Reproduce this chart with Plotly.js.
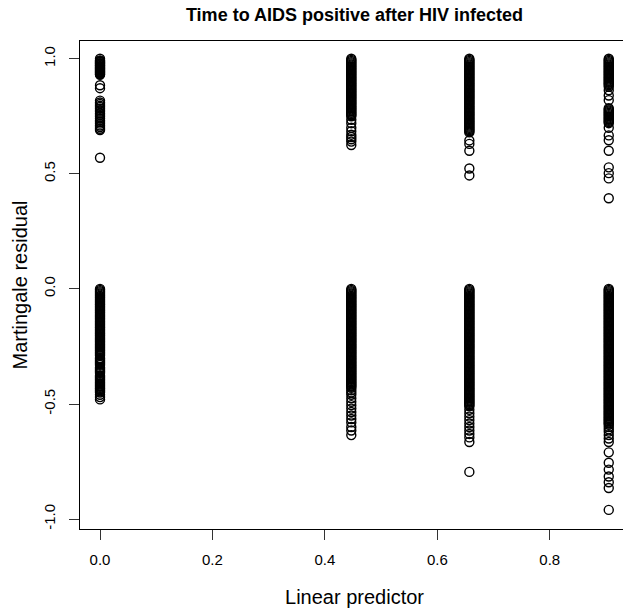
<!DOCTYPE html>
<html>
<head>
<meta charset="utf-8">
<script src="https://cdn.plot.ly/plotly-3.0.1.min.js"></script>
<style>
html,body{margin:0;padding:0;overflow:hidden;background:#fff;}
#chart{width:629px;height:612px;}
</style>
</head>
<body>
<div id="chart"></div>
<script>
// Linear predictor values (one per group of subjects)
const linearPredictor = [0, 0.447, 0.657, 0.905];

// Martingale residuals, upper (events) and lower (censored) clusters per group
const residUpper0 = [1.0,0.993,0.99,0.987,0.984,0.981,0.978,0.975,0.972,0.969,0.966,0.963,0.96,0.957,0.954,0.951,0.948,0.945,0.942,0.939,0.936,0.933,0.93,0.885,0.872,0.818,0.81,0.803,0.796,0.79,0.783,0.776,0.77,0.762,0.755,0.748,0.74,0.732,0.725,0.718,0.71,0.703,0.696,0.69,0.57];
const residLower0 = [0,-0.005,-0.01,-0.015,-0.02,-0.025,-0.03,-0.035,-0.04,-0.045,-0.05,-0.055,-0.06,-0.065,-0.07,-0.075,-0.08,-0.085,-0.09,-0.095,-0.1,-0.105,-0.11,-0.115,-0.12,-0.125,-0.13,-0.135,-0.14,-0.145,-0.15,-0.155,-0.16,-0.165,-0.17,-0.175,-0.18,-0.185,-0.19,-0.195,-0.2,-0.205,-0.21,-0.215,-0.22,-0.225,-0.23,-0.235,-0.24,-0.245,-0.25,-0.255,-0.26,-0.265,-0.27,-0.275,-0.28,-0.285,-0.29,-0.3,-0.305,-0.31,-0.315,-0.32,-0.325,-0.33,-0.34,-0.345,-0.35,-0.355,-0.36,-0.365,-0.375,-0.38,-0.385,-0.39,-0.395,-0.4,-0.405,-0.41,-0.415,-0.42,-0.425,-0.43,-0.435,-0.44,-0.445,-0.45,-0.46,-0.47,-0.48];

const residUpper1 = [1,0.995,0.99,0.985,0.98,0.975,0.97,0.965,0.96,0.955,0.95,0.945,0.94,0.935,0.93,0.925,0.92,0.915,0.91,0.905,0.9,0.895,0.89,0.885,0.88,0.875,0.87,0.865,0.86,0.855,0.85,0.845,0.84,0.835,0.83,0.825,0.82,0.815,0.81,0.805,0.8,0.795,0.79,0.785,0.78,0.775,0.77,0.765,0.76,0.755,0.75,0.735,0.72,0.7,0.685,0.67,0.66,0.65,0.64,0.625];
const residLower1 = [0,-0.005,-0.01,-0.015,-0.02,-0.025,-0.03,-0.035,-0.04,-0.045,-0.05,-0.055,-0.06,-0.065,-0.07,-0.075,-0.08,-0.085,-0.09,-0.095,-0.1,-0.105,-0.11,-0.115,-0.12,-0.125,-0.13,-0.135,-0.14,-0.145,-0.15,-0.155,-0.16,-0.165,-0.17,-0.175,-0.18,-0.185,-0.19,-0.195,-0.2,-0.205,-0.21,-0.215,-0.22,-0.225,-0.23,-0.235,-0.24,-0.245,-0.25,-0.255,-0.26,-0.265,-0.27,-0.275,-0.28,-0.285,-0.29,-0.295,-0.3,-0.305,-0.31,-0.315,-0.32,-0.325,-0.33,-0.335,-0.34,-0.345,-0.35,-0.355,-0.36,-0.365,-0.37,-0.375,-0.38,-0.385,-0.39,-0.395,-0.4,-0.405,-0.41,-0.415,-0.42,-0.425,-0.43,-0.44,-0.45,-0.46,-0.475,-0.49,-0.505,-0.52,-0.535,-0.55,-0.565,-0.58,-0.6,-0.615,-0.635];

const residUpper2 = [1,0.995,0.99,0.985,0.98,0.975,0.97,0.965,0.96,0.955,0.95,0.945,0.94,0.935,0.93,0.925,0.92,0.915,0.91,0.905,0.9,0.895,0.89,0.885,0.88,0.875,0.87,0.865,0.86,0.855,0.85,0.845,0.84,0.835,0.83,0.825,0.82,0.815,0.81,0.805,0.8,0.795,0.79,0.785,0.78,0.775,0.77,0.765,0.76,0.755,0.75,0.745,0.74,0.735,0.73,0.725,0.72,0.715,0.71,0.705,0.7,0.695,0.69,0.685,0.68,0.645,0.63,0.6,0.523,0.493];
const residLower2 = [0,-0.005,-0.01,-0.015,-0.02,-0.025,-0.03,-0.035,-0.04,-0.045,-0.05,-0.055,-0.06,-0.065,-0.07,-0.075,-0.08,-0.085,-0.09,-0.095,-0.1,-0.105,-0.11,-0.115,-0.12,-0.125,-0.13,-0.135,-0.14,-0.145,-0.15,-0.155,-0.16,-0.165,-0.17,-0.175,-0.18,-0.185,-0.19,-0.195,-0.2,-0.205,-0.21,-0.215,-0.22,-0.225,-0.23,-0.235,-0.24,-0.245,-0.25,-0.255,-0.26,-0.265,-0.27,-0.275,-0.28,-0.285,-0.29,-0.295,-0.3,-0.305,-0.31,-0.315,-0.32,-0.325,-0.33,-0.335,-0.34,-0.345,-0.35,-0.355,-0.36,-0.365,-0.37,-0.375,-0.38,-0.385,-0.39,-0.395,-0.4,-0.405,-0.41,-0.415,-0.42,-0.425,-0.43,-0.435,-0.44,-0.445,-0.45,-0.455,-0.46,-0.465,-0.47,-0.475,-0.48,-0.485,-0.49,-0.495,-0.5,-0.505,-0.51,-0.525,-0.54,-0.555,-0.57,-0.585,-0.6,-0.615,-0.63,-0.645,-0.665,-0.795];

const residUpper3 = [1,0.995,0.99,0.985,0.98,0.975,0.97,0.965,0.96,0.955,0.95,0.945,0.94,0.935,0.93,0.925,0.92,0.915,0.91,0.905,0.9,0.895,0.89,0.885,0.878,0.863,0.84,0.82,0.785,0.78,0.775,0.77,0.765,0.76,0.755,0.75,0.745,0.74,0.735,0.73,0.725,0.72,0.70,0.667,0.646,0.60,0.528,0.503,0.48,0.394];
const residLower3 = [0,-0.005,-0.01,-0.015,-0.02,-0.025,-0.03,-0.035,-0.04,-0.045,-0.05,-0.055,-0.06,-0.065,-0.07,-0.075,-0.08,-0.085,-0.09,-0.095,-0.1,-0.105,-0.11,-0.115,-0.12,-0.125,-0.13,-0.135,-0.14,-0.145,-0.15,-0.155,-0.16,-0.165,-0.17,-0.175,-0.18,-0.185,-0.19,-0.195,-0.2,-0.205,-0.21,-0.215,-0.22,-0.225,-0.23,-0.235,-0.24,-0.245,-0.25,-0.255,-0.26,-0.265,-0.27,-0.275,-0.28,-0.285,-0.29,-0.295,-0.3,-0.305,-0.31,-0.315,-0.32,-0.325,-0.33,-0.335,-0.34,-0.345,-0.35,-0.355,-0.36,-0.365,-0.37,-0.375,-0.38,-0.385,-0.39,-0.395,-0.4,-0.405,-0.41,-0.415,-0.42,-0.425,-0.43,-0.435,-0.44,-0.445,-0.45,-0.455,-0.46,-0.465,-0.47,-0.475,-0.48,-0.485,-0.49,-0.495,-0.5,-0.505,-0.51,-0.515,-0.52,-0.525,-0.53,-0.535,-0.54,-0.545,-0.55,-0.555,-0.56,-0.565,-0.57,-0.575,-0.58,-0.585,-0.59,-0.6,-0.61,-0.62,-0.635,-0.65,-0.665,-0.71,-0.755,-0.785,-0.815,-0.84,-0.865,-0.96];

const xTickVals = [0, 0.2, 0.4, 0.6, 0.8];
const xTickText = ['0.0', '0.2', '0.4', '0.6', '0.8'];
const yTickVals = [-1, -0.5, 0, 0.5, 1];
const yTickText = ['-1.0', '-0.5', '0.0', '0.5', '1.0'];

const groups = [
  residUpper0.concat(residLower0),
  residUpper1.concat(residLower1),
  residUpper2.concat(residLower2),
  residUpper3.concat(residLower3)
];
const xs = [], ys = [];
groups.forEach((g, i) => g.forEach(v => { xs.push(linearPredictor[i]); ys.push(v); }));

const FONT = '"Liberation Sans", Arial, Helvetica, sans-serif';

const trace = {
  type: 'scatter', mode: 'markers', x: xs, y: ys,
  marker: {symbol: 'circle-open', size: 9, color: '#000', line: {width: 1.4, color: '#000'}},
  hoverinfo: 'skip'
};

const axisCommon = {
  showgrid: false, zeroline: false, showline: true, mirror: true,
  linecolor: '#000', linewidth: 1, ticks: 'outside', ticklen: 10,
  tickcolor: '#333', tickwidth: 1,
  tickfont: {family: FONT, size: 15, color: '#000'}
};

const layout = {
  width: 629, height: 612,
  margin: {l: 80, r: 0, t: 41, b: 83},
  paper_bgcolor: '#fff', plot_bgcolor: '#fff',
  showlegend: false,
  title: {
    text: 'Time to AIDS positive after HIV infected',
    font: {family: FONT, size: 18, color: '#000', weight: 'bold'},
    xref: 'paper', x: 0.5, xanchor: 'center',
    yref: 'container', y: 1 - 15/612, yanchor: 'middle'
  },
  xaxis: Object.assign({}, axisCommon, {
    range: [-0.0356, 0.941],
    tickmode: 'array', tickvals: xTickVals, ticktext: xTickText,
    ticklabelstandoff: 7,
    title: {text: 'Linear predictor', font: {family: FONT, size: 20, color: '#000'}, standoff: 22}
  }),
  yaxis: Object.assign({}, axisCommon, {
    range: [-1.043, 1.077],
    tickmode: 'array', tickvals: yTickVals, ticktext: yTickText,
    tickangle: -90,
    ticklabelstandoff: 8,
    title: {text: 'Martingale residual', font: {family: FONT, size: 20, color: '#000'}, standoff: 8}
  })
};

Plotly.newPlot('chart', [trace], layout, {displayModeBar: false, staticPlot: true});
</script>
</body>
</html>
